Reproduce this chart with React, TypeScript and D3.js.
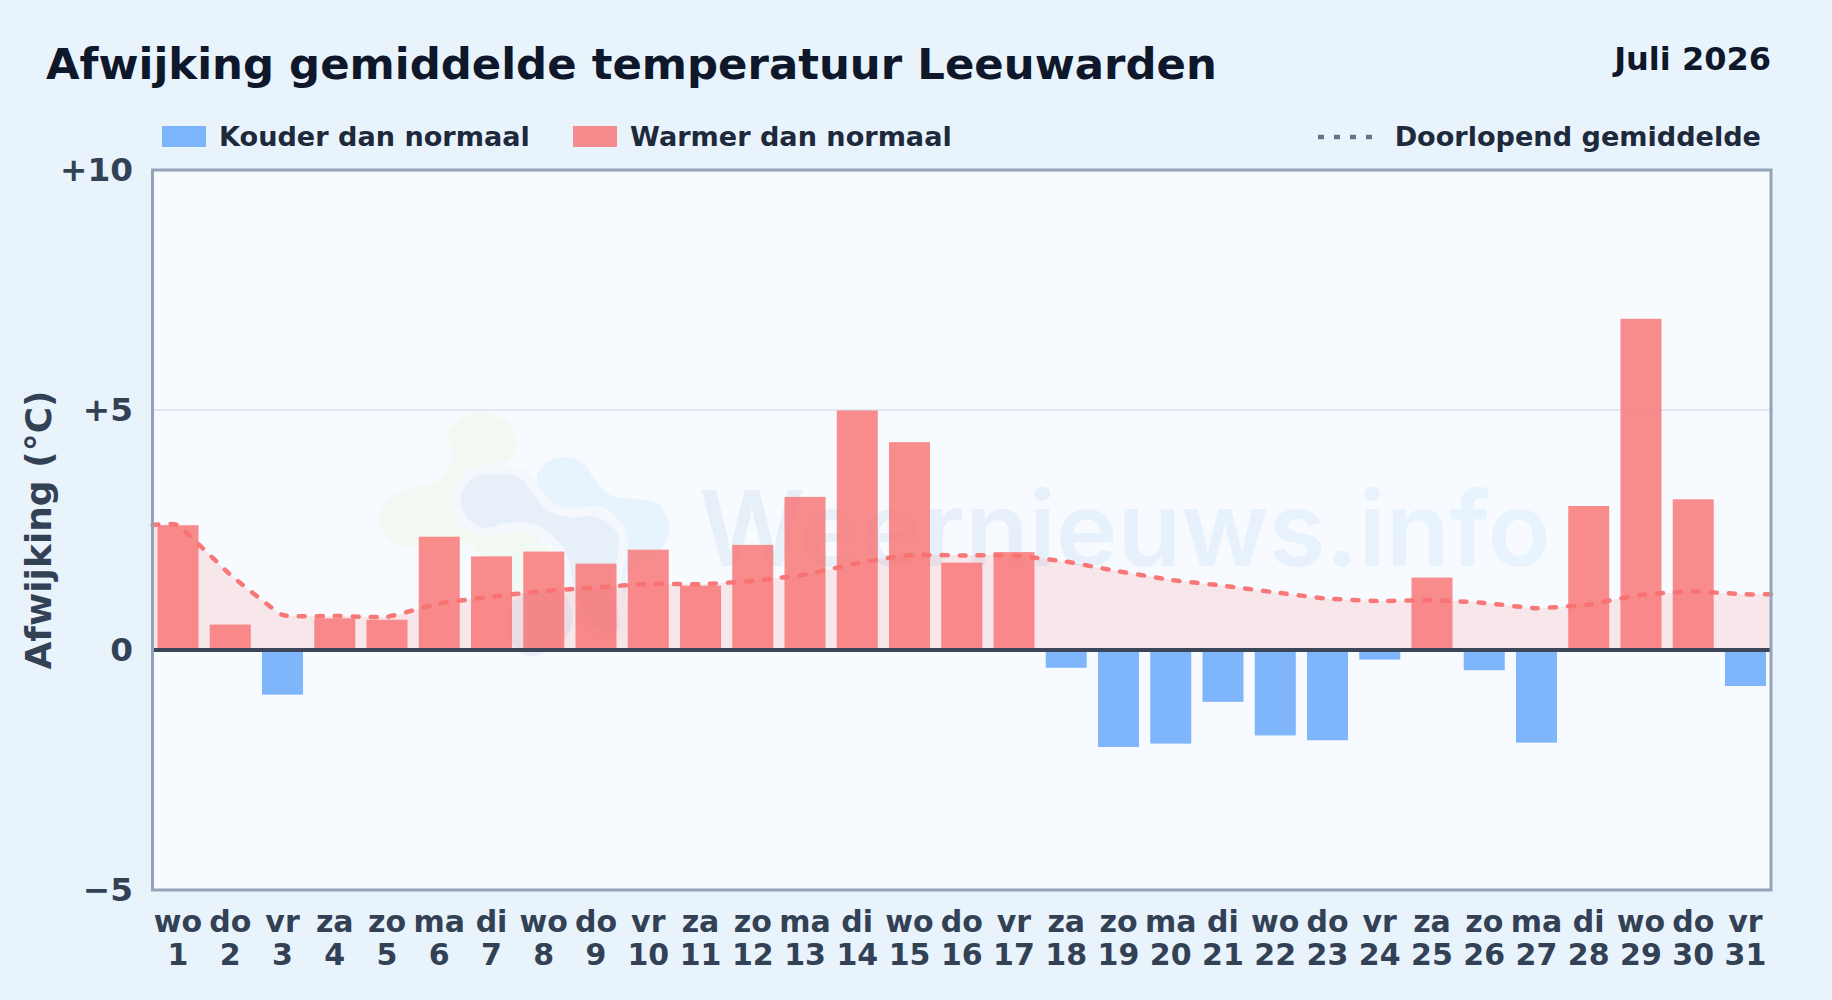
import React from "react";
import * as d3 from "d3";

const weekdays = ["wo","do","vr","za","zo","ma","di","wo","do","vr","za","zo","ma","di","wo","do","vr","za","zo","ma","di","wo","do","vr","za","zo","ma","di","wo","do","vr"];
const days = d3.range(1, 32);
const deviations = [2.6,0.53,-0.93,0.66,0.63,2.36,1.95,2.05,1.8,2.09,1.34,2.19,3.19,4.99,4.33,1.82,2.04,-0.37,-2.02,-1.95,-1.08,-1.78,-1.88,-0.2,1.51,-0.42,-1.93,3.0,6.9,3.14,-0.75];
const runningMean = [2.6,1.57,0.73,0.71,0.69,0.97,1.11,1.23,1.3,1.38,1.37,1.44,1.57,1.81,1.98,1.97,1.97,1.84,1.64,1.46,1.34,1.2,1.07,1.02,1.04,0.98,0.87,0.95,1.15,1.22,1.16];
const yTicks = [10, 5, 0, -5];
const yTickLabels = ["+10", "+5", "0", "−5"];

const W = 1832, H = 1000;
const L = 152.5, R = 1771, T = 170, B = 890;
const FONT = "'DejaVu Sans', sans-serif";

const x = d3.scaleBand<number>().domain(days).range([L - 0.6, R + 0.6]).paddingInner(0.215).paddingOuter(0.1075);
const y = d3.scaleLinear().domain([-5, 10]).range([B, T]);
const cx = (d: number) => x(d)! + x.bandwidth() / 2;

const meanPts: [number, number][] = [
  [L, runningMean[0]],
  ...days.map((d, i) => [cx(d), runningMean[i]] as [number, number]),
  [R, runningMean[runningMean.length - 1]],
];
const curve = d3.curveCardinal.tension(0.65);
const meanLine = d3.line<[number, number]>().x(d => d[0]).y(d => y(d[1])).curve(curve)(meanPts)!;
const meanArea = d3.area<[number, number]>().x(d => d[0]).y0(y(0)).y1(d => y(d[1])).curve(curve)(meanPts)!;

const blob = (pts: [number, number][]) => d3.line().curve(d3.curveCatmullRomClosed.alpha(0.5))(pts)!;
const greenBlob: [number, number][] = [[448,433],[467,415],[488,413],[508,423],[517,443],[510,460],[490,467],[500,500],[540,540],[560,565],[565,600],[530,610],[510,590],[480,555],[460,540],[437,543],[407,547],[387,537],[379,517],[390,497],[413,488],[440,480],[452,458]];
const lightBlob: [number, number][] = [[537,477],[547,462],[567,457],[583,463],[595,480],[610,495],[633,499],[657,503],[669,525],[663,547],[643,563],[628,570],[625,600],[615,630],[602,630],[615,590],[627,547],[620,523],[603,507],[583,508],[560,508],[543,497]];
const darkBlob: [number, number][] = [[462,493],[473,478],[497,474],[520,478],[533,493],[547,510],[567,517],[597,517],[617,533],[618,553],[612,577],[618,630],[590,625],[572,580],[570,565],[563,547],[537,525],[510,523],[480,527],[462,510]];
const lowBlob: [number, number][] = [[510,605],[530,592],[560,590],[573,610],[565,640],[540,655],[525,655],[510,640]];

export default function App() {
  return (
    <svg width={W} height={H} viewBox={`0 0 ${W} ${H}`} style={{ position: "absolute", left: 0, top: 0, display: "block" }} fontFamily={FONT}>
      <defs>
        <linearGradient id="wm" gradientUnits="userSpaceOnUse" x1={700} x2={1550} y1={0} y2={0}>
          <stop offset="0" stopColor="#e7eff9" />
          <stop offset="1" stopColor="#e7f3fd" />
        </linearGradient>
      </defs>
      <rect width={W} height={H} fill="#e8f3fc" />
      <rect x={L} y={T} width={R - L} height={B - T} fill="#f7fbff" />
      <g>
        <path d={blob(greenBlob)} fill="#f2f8f2" />
        <path d={blob(lowBlob)} fill="#e9f0f8" />
        <path d={blob(lightBlob)} fill="#e7f3fd" />
        <path d={blob(darkBlob)} fill="#e7eff9" stroke="#f4f8fd" strokeWidth={18} style={{ paintOrder: "stroke" }} />
        <text x={699} y={566} fontSize={104} fontWeight={600} fontFamily="Inter" fill="url(#wm)">Weernieuws.info</text>
      </g>
      <line x1={L} x2={R} y1={y(5)} y2={y(5)} stroke="#e2e8f0" strokeWidth={2} />
      <path d={meanArea} fill="#f87171" fillOpacity={0.15} />
      {days.map((d, i) => {
        const v = deviations[i];
        return (
          <rect key={d} x={x(d)} width={x.bandwidth()} y={v >= 0 ? y(v) : y(0)} height={Math.abs(y(v) - y(0))}
            fill={v >= 0 ? "#f87171" : "#60a5fa"} fillOpacity={0.8} />
        );
      })}
      <path d={meanLine} fill="none" stroke="#f87171" strokeWidth={4.5} strokeDasharray="6 12" strokeLinecap="round" opacity={0.95} />
      <line x1={L} x2={R} y1={y(0)} y2={y(0)} stroke="#3b4659" strokeWidth={4} />
      <rect x={L} y={T} width={R - L} height={B - T} fill="none" stroke="#94a3b8" strokeWidth={3} />

      <text x={46} y={79} fontSize={43.4} fontWeight={700} fill="#0f172a">Afwijking gemiddelde temperatuur Leeuwarden</text>
      <text x={1771} y={70} textAnchor="end" fontSize={32} fontWeight={700} fill="#0f172a">Juli 2026</text>

      <rect x={162} y={126} width={44} height={21} fill="#60a5fa" fillOpacity={0.8} />
      <text x={219} y={146} fontSize={27.1} fontWeight={700} fill="#1e293b">Kouder dan normaal</text>
      <rect x={573} y={126} width={44} height={21} fill="#f87171" fillOpacity={0.8} />
      <text x={630} y={146} fontSize={27.1} fontWeight={700} fill="#1e293b">Warmer dan normaal</text>
      <line x1={1318} x2={1372} y1={137} y2={137} stroke="#64748b" strokeWidth={4.5} strokeDasharray="6 10" />
      <text x={1761} y={146} textAnchor="end" fontSize={27.1} fontWeight={700} fill="#1e293b">Doorlopend gemiddelde</text>

      {yTicks.map((t, i) => (
        <text key={t} x={133} y={y(t) + 11} textAnchor="end" fontSize={32.7} fontWeight={700} fill="#334155">{yTickLabels[i]}</text>
      ))}
      <text transform={`translate(51,530) rotate(-90)`} textAnchor="middle" fontSize={36} fontWeight={700} fill="#334155">Afwijking (°C)</text>

      {days.map((d, i) => (
        <g key={d} textAnchor="middle" fontSize={30} fontWeight={700} fill="#334155">
          <text x={cx(d)} y={932}>{weekdays[i]}</text>
          <text x={cx(d)} y={965}>{d}</text>
        </g>
      ))}
    </svg>
  );
}
